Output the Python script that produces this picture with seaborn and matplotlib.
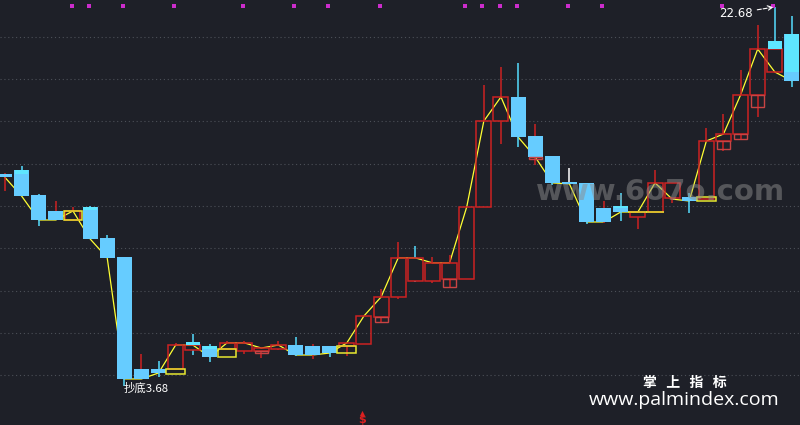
import numpy as np
import pandas as pd
import matplotlib
matplotlib.use('Agg')
import matplotlib.pyplot as plt
import matplotlib.transforms as mtransforms
import seaborn as sns

# candle data (price units)
opens = [14.31, 14.51, 13.25, 12.45, 12.00, 12.65, 11.10, 10.15, 4.53, 4.53,
         4.53, 5.48, 5.68, 5.53, 5.43, 5.43, 5.53, 5.73, 5.68, 5.68,
         5.68, 5.79, 7.14, 8.14, 8.94, 8.94, 9.04, 9.04, 12.65, 16.96,
         18.17, 16.21, 15.21, 13.91, 13.86, 12.60, 12.70, 12.15, 12.40, 13.10,
         13.15, 13.05, 15.96, 16.31, 18.27, 19.42, 21.33]
closes = [14.16, 13.20, 12.00, 12.00, 12.45, 11.05, 10.10, 4.03, 4.03, 4.33,
          5.73, 5.73, 5.13, 5.84, 5.84, 5.58, 5.73, 5.23, 5.23, 5.33,
          5.84, 7.19, 8.14, 10.10, 10.10, 9.85, 9.85, 12.65, 16.96, 18.17,
          16.16, 15.16, 13.86, 13.81, 11.90, 11.90, 12.40, 12.40, 13.86, 13.86,
          12.95, 15.96, 16.31, 18.27, 20.57, 20.57, 18.97]
highs = [14.36, 14.71, 13.30, 12.95, 12.65, 12.70, 11.25, 10.15, 5.28, 4.93,
         5.84, 6.29, 5.79, 5.94, 5.94, 5.58, 5.94, 6.14, 5.79, 5.68,
         5.84, 7.19, 8.54, 10.90, 10.70, 10.15, 10.25, 12.65, 18.77, 19.67,
         19.87, 16.81, 15.21, 14.61, 13.86, 12.95, 13.35, 12.40, 14.51, 13.86,
         13.35, 16.61, 17.31, 19.52, 21.78, 22.68, 22.23]
lows = [13.46, 13.20, 11.70, 12.00, 12.00, 11.05, 10.10, 3.68, 4.03, 4.13,
        4.53, 5.23, 4.88, 5.53, 5.28, 5.08, 5.48, 5.18, 5.03, 5.13,
        5.18, 5.79, 6.89, 8.04, 8.89, 8.84, 8.64, 9.04, 12.65, 15.81,
        15.66, 14.76, 13.76, 13.81, 11.80, 11.85, 11.95, 11.55, 12.40, 12.85,
        12.35, 13.05, 15.46, 16.06, 17.16, 19.42, 18.67]
# yellow line
trend = [14.16, 13.20, 12.00, 12.00, 12.45, 11.05, 10.10, 4.03, 4.03, 4.33,
         5.73, 5.73, 5.13, 5.84, 5.84, 5.58, 5.73, 5.23, 5.23, 5.33,
         5.84, 7.19, 8.14, 10.10, 10.10, 9.85, 9.85, 12.65, 16.96, 18.17,
         16.16, 15.16, 13.86, 13.81, 11.90, 11.90, 12.40, 12.40, 13.86, 13.05,
         12.95, 15.96, 16.31, 18.27, 20.57, 19.42, 18.97]

# overlay boxes
yellow_idx = [4, 10, 13, 20, 37, 38, 41]
yellow_lo = [12.00, 4.28, 5.13, 5.33, 12.40, 12.40, 12.95]
yellow_hi = [12.45, 4.53, 5.53, 5.68, 12.40, 12.40, 13.15]
cap_idx = [1, 5, 11, 12, 36, 45, 46]
cap_lo = [14.31, 12.50, 5.73, 5.53, 12.60, 20.57, 19.42]
cap_hi = [14.51, 12.65, 5.89, 5.68, 12.70, 20.97, 21.33]
pink_idx = [15, 22, 26, 31, 42, 43, 44]
pink_lo = [5.33, 6.89, 8.64, 15.06, 15.56, 16.06, 17.67]
pink_hi = [5.43, 7.14, 9.04, 15.16, 15.96, 16.31, 18.27]
signal_idx = [4, 5, 7, 10, 14, 17, 19, 22, 27, 28, 29, 30, 33, 35, 42, 45]
red_wick = [0, 3, 8, 18, 31, 35]
cyan_wick = [11, 24, 45]
white_wick = [33]

grid_levels = [21.18, 19.07, 16.96, 14.81, 12.70, 10.60, 8.44, 6.34, 4.23]

bg = '#1e2028'
red = '#cc2222'
blue = '#66ccff'
cyan = '#5ee6ff'
yellow = '#ffff33'

sns.set_theme(style='dark', rc={'axes.facecolor': bg, 'figure.facecolor': bg})
plt.rcParams['font.family'] = ['DejaVu Sans', 'Noto Sans CJK SC']

df = pd.DataFrame({'open': opens, 'close': closes, 'high': highs, 'low': lows, 'trend': trend})
df['i'] = np.arange(len(df))
up = df['close'] >= df['open']
w = 0.876

fig = plt.figure(figsize=(8, 4.25), dpi=100)
ax = fig.add_axes([0, 0, 1, 1])

# grid
for g in grid_levels:
    ax.axhline(g, color='#4c5058', lw=0.8, linestyle=(0, (1, 2.5)), zorder=0)

# yellow line
sns.lineplot(data=df, x='i', y='trend', color=yellow, lw=0.9, ax=ax, zorder=1)

# wicks
for _, r in df.iterrows():
    i = int(r['i'])
    if i in red_wick:
        wc = red
    elif i in cyan_wick:
        wc = '#55ddff'
    elif i in white_wick:
        wc = 'white'
    else:
        wc = red if r['close'] >= r['open'] else '#55ddff'
    top = max(r['open'], r['close'])
    bot = min(r['open'], r['close'])
    ax.vlines(i, top, r['high'], color=wc, lw=1.1, zorder=2)
    ax.vlines(i, r['low'], bot, color=wc, lw=1.1, zorder=2)

# bodies
dn = df[~up]
ax.bar(dn['i'], dn['open'] - dn['close'], bottom=dn['close'], width=w,
       color=blue, edgecolor='none', zorder=3)
uu = df[up]
ax.bar(uu['i'], (uu['close'] - uu['open']).clip(lower=0.02), bottom=uu['open'], width=w,
       fill=False, edgecolor=red, lw=1.1, zorder=3)

# overlays
ax.bar(cap_idx, np.array(cap_hi) - np.array(cap_lo), bottom=cap_lo, width=0.8,
       color=cyan, edgecolor='none', zorder=4)
ax.bar(pink_idx, np.array(pink_hi) - np.array(pink_lo), bottom=pink_lo, width=0.76,
       fill=False, edgecolor='#c84444', lw=1.0, zorder=4)
ax.bar(yellow_idx, np.array(yellow_hi) - np.array(yellow_lo), bottom=yellow_lo, width=1.1,
       fill=False, edgecolor='#e8e830', lw=1.1, zorder=4)

# signal dots along the top
trans = mtransforms.blended_transform_factory(ax.transData, ax.transAxes)
ax.scatter(np.array(signal_idx) - 0.08, [1 - 6 / 425] * len(signal_idx), marker='s', s=7,
           color='#cc2ccc', transform=trans, zorder=6, linewidths=0)

# buy marker at bottom
ax.text(21 - 0.12, 0.0, '$', color='#dd2020', fontsize=8, fontweight='bold',
        ha='center', va='bottom', transform=trans, zorder=6)
ax.scatter([21 - 0.12], [1 - 413 / 425], marker='^', s=14, color='#dd2020',
           transform=trans, zorder=7, linewidths=0)

# labels
ax.annotate('22.68', xy=(45, highs[45]), xytext=(-16, -4.5), textcoords='offset points',
            color='white', fontsize=8.5, ha='right', va='center',
            arrowprops=dict(arrowstyle='->', color='white', lw=0.8, linestyle='--',
                            shrinkA=1, shrinkB=1), zorder=7)
ax.annotate('抄底3.68', xy=(7, lows[7]), xytext=(-0.5, -1.5), textcoords='offset points',
            color='white', fontsize=8.2, ha='left', va='center',
            family=['Noto Sans CJK SC', 'DejaVu Sans'], zorder=8)

# watermarks
fig.text(661 / 800, 1 - 192 / 425, 'www.6o7o.com', color='#8c8c8c', alpha=0.5,
         fontsize=21, fontweight='bold', ha='center', va='center', zorder=9)
fig.text(685 / 800, 1 - 383 / 425, '掌   上   指   标', color='white', fontsize=10,
         fontweight='bold', ha='center', va='center',
         family=['Noto Sans CJK SC', 'DejaVu Sans'])
fig.text(684 / 800, 1 - 400 / 425, 'www.palmindex.com', color='white', fontsize=14,
         ha='center', va='center', family=['Open Sans', 'DejaVu Sans'])

ax.set_xlim(-0.263, 46.47)
ax.set_ylim(1.72, 23.03)
ax.set_xticks([])
ax.set_yticks([])
ax.set_xlabel('')
ax.set_ylabel('')
for s in ax.spines.values():
    s.set_visible(False)

fig.savefig('out.png', dpi=100, facecolor=bg)
